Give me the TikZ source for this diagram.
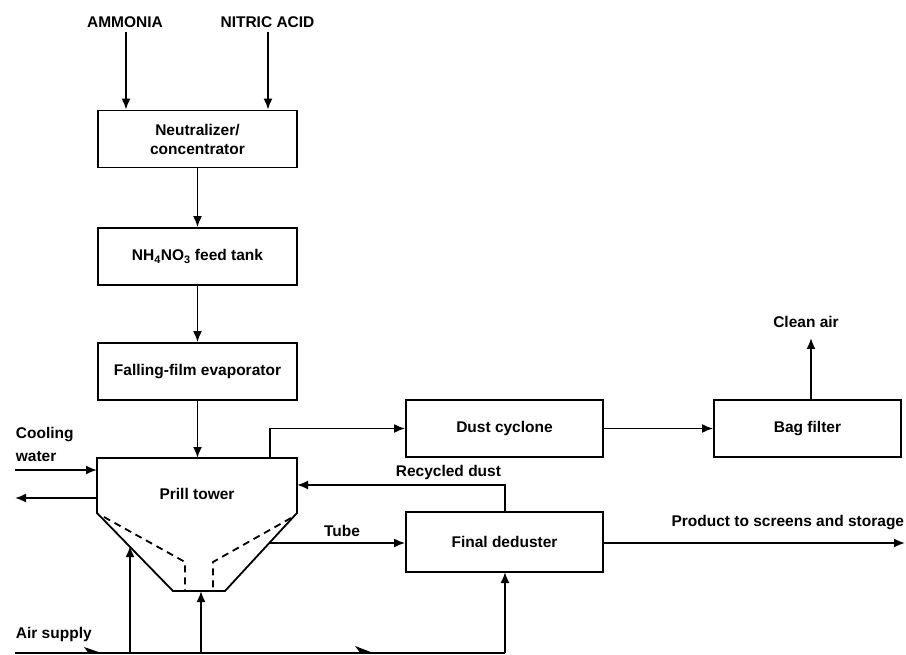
\documentclass[tikz,border=0pt]{standalone}
\usepackage{fontspec}
\setmainfont{Liberation Sans}
\usetikzlibrary{arrows.meta}
\begin{document}
\begin{tikzpicture}[x=1pt,y=-1pt,
  line width=1.8pt,
  every node/.style={font=\fontsize{15.5}{19}\selectfont\bfseries, inner sep=0pt},
  box/.style={draw, rectangle, line width=1.8pt, minimum width=199pt, minimum height=57pt, align=center},
  flow/.style={-{Latex[length=11pt,width=9pt]}},
  barb/.style={fill=black, draw=none}
]
\useasboundingbox (0,0) rectangle (906,655);

% process boxes
\node[box] (neut) at (197.5,139) {Neutralizer/\\concentrator};
\node[box] (feed) at (197.5,256.5) {NH\textsubscript{4}NO\textsubscript{3} feed tank};
\node[box] (evap) at (197.5,371.5) {Falling-film evaporator};
\node[box, minimum width=197pt] (cyc) at (504.5,428.5) {Dust cyclone};
\node[box, minimum width=187pt] (bag) at (807.5,428.5) {Bag filter};
\node[box, minimum width=197pt, minimum height=60pt] (dedust) at (504.5,542) {Final deduster};

% prill tower
\coordinate (tTL) at (97,458);
\coordinate (tTR) at (297,458);
\coordinate (tRC) at (297,513);
\coordinate (tBR) at (225,591);
\coordinate (tBL) at (173,591);
\coordinate (tLC) at (97,513);
\draw[line join=miter] (tTL) -- (tTR) -- (tRC) -- (tBR) -- (tBL) -- (tLC) -- cycle;
\draw[dash pattern=on 7pt off 5pt] (104,517) -- (185,562) -- (185,591);
\draw[dash pattern=on 7pt off 5pt] (291,518) -- (213,562) -- (213,591);
\node (prill) at (197,494) {Prill tower};

% feed labels
\node (amm) at (125,22) {AMMONIA};
\node (nit) at (267.5,22) {NITRIC ACID};
\coordinate (ammS) at (126,32);
\coordinate (nitS) at (268,32);
\draw[flow] (ammS) -- (ammS |- neut.north);
\draw[flow] (nitS) -- (nitS |- neut.north);

% vertical chain
\draw[flow] (neut.south) -- (feed.north);
\draw[flow] (feed.south) -- (evap.north);
\coordinate (tTop) at (197.5,458);
\draw[flow] (evap.south) -- (tTop);

% cooling water
\node[align=left, anchor=west, font=\fontsize{15.5}{23}\selectfont\bfseries] (cool) at (15,444) {Cooling\\water};
\coordinate (cwIn) at (15,470);
\coordinate (cwOut) at (15,498);
\draw[flow] (cwIn) -- (cwIn -| tTL);
\draw[flow] (97,498) -- (cwOut);

% off-gas to dust cyclone
\coordinate (offgas) at (270,458);
\draw[flow] (offgas) -- (270,428.5) -- (cyc.west);
\draw[flow] (cyc.east) -- (bag.west);

% clean air
\coordinate (bagTop) at (811,400);
\coordinate (cleanEnd) at (811,338);
\draw[flow] (bagTop) -- (cleanEnd);
\node (clean) at (806,322) {Clean air};

% recycled dust
\coordinate (recTop) at (505,485);
\draw[flow] (505,512) -- (recTop) -- (297,485);
\node[anchor=west] (rec) at (395,472) {Recycled dust};

% tube
\coordinate (tubeStart) at (270,543);
\draw[flow] (tubeStart) -- (tubeStart -| dedust.west);
\node (tube) at (342,531) {Tube};

% product
\coordinate (prodEnd) at (905,543);
\draw[flow] (dedust.east |- prodEnd) -- (prodEnd);
\node[anchor=east] (prod) at (905,523) {Product to screens and storage};

% air supply
\node[anchor=west] (air) at (15,634) {Air supply};
\coordinate (airStart) at (15,653);
\coordinate (airCorner) at (505,653);
\draw (airStart) -- (airCorner);
\draw[flow] (airCorner) -- (505,572);
\draw[flow] (130,653) -- (130,546);
\draw[flow] (201,653) -- (201,591);
\fill[barb] (84,647) -- (100,652.5) -- (88,652.5) -- cycle;
\fill[barb] (355,646) -- (372,652.5) -- (360,652.5) -- cycle;
\end{tikzpicture}
\end{document}
